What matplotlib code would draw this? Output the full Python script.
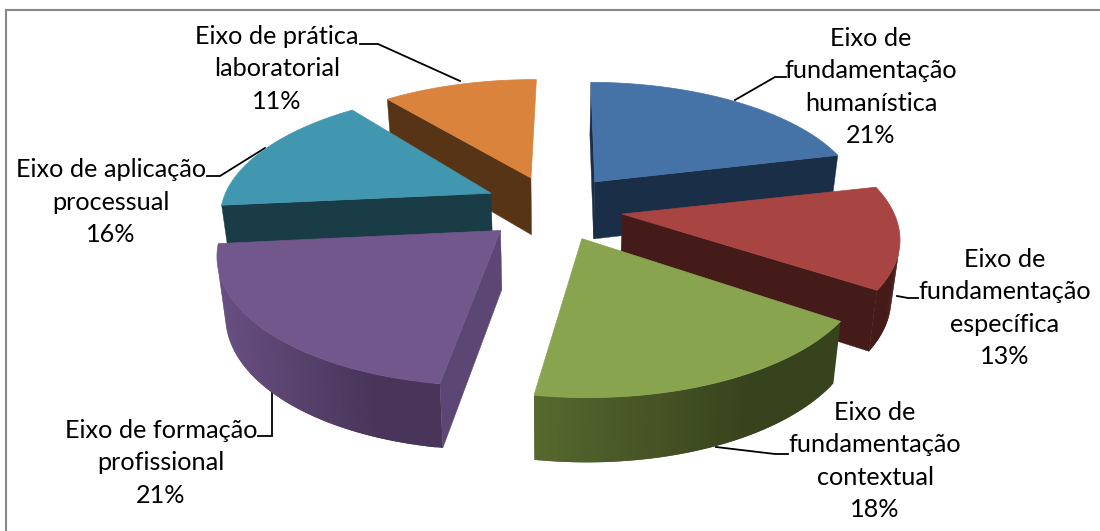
import numpy as np
import matplotlib
matplotlib.use("Agg")
import matplotlib.pyplot as plt
from matplotlib.colors import to_rgb
from matplotlib.patches import Polygon

# ---- data ----
categories = ["Eixo de\nfundamentação\nhumanística",
              "Eixo de\nfundamentação\nespecífica",
              "Eixo de\nfundamentação\ncontextual",
              "Eixo de formação\nprofissional",
              "Eixo de aplicação\nprocessual",
              "Eixo de prática\nlaboratorial"]
values = [21, 13, 18, 21, 16, 11]

# ---- styling ----
top_colors = ["#4572A7", "#A84543", "#89A44F", "#71578C", "#4197AF", "#D9833C"]
wall_colors = ["#1B2E47", "#451B19", "#37431D", "#5C4673", "#1A3C47", "#583416"]
arc_light = ["#1B2E47", "#451B19", "#58692F", "#684F82", "#1A3C47", "#583416"]
arc_dark = ["#1B2E47", "#451B19", "#37431D", "#483559", "#1A3C47", "#583416"]
label_centers = [(871, 87), (1005, 308), (875, 461), (161, 463), (111, 202), (277, 69)]
leaders = [[(735, 100), (775, 77), (786, 77)],
           [(897, 296), (908, 298), (918, 298)],
           [(716, 447), (775, 454), (788, 454)],
           [(272, 392), (272, 436), (258, 436)],
           [(265, 148), (220, 176), (207, 176)],
           [(460, 81), (378, 44), (360, 44)]]
draw_order = [5, 0, 4, 1, 3, 2]
slice_nudge = [(1, -1), (0, 0), (2, -1), (5, -1), (7, -2), (4, 0)]  # pixels
slice_rot = [0.5, 1.5, 2.0, 1.5, 1.5, 0.6]                          # degrees
hidden_walls = {(5, 1)}  # wall edge-on in the reference

CX, CY = 550, 208      # pie centre in pixels
A, B = 270, 122.6      # horizontal / vertical radius
K = 0.158              # perspective
EXPLODE = 0.27
DEPTH = 58
SHRINK = 0.975         # bottom plane is a little further away


def project(gx, gy, z=0.0, nudge=(0, 0)):
    """Ground coordinates (gx right, gy away from viewer) to pixels; z=1 is bottom."""
    gx, gy = np.asarray(gx, float), np.asarray(gy, float)
    s = 1.0 / (1.0 + K * gy)
    x = CX + nudge[0] + gx * A * s * (1 - (1 - SHRINK) * z)
    y = CY + nudge[1] - gy * B * s + z * DEPTH * np.sqrt(s)
    return np.column_stack([x, y])


def area(p):
    x, y = p[:, 0], p[:, 1]
    return 0.5 * np.sum(x * np.roll(y, -1) - np.roll(x, -1) * y)


fig = plt.figure(figsize=(11.0, 5.31), dpi=100)
ax = fig.add_axes([0, 0, 1, 1])
ax.set_xlim(0, 1100)
ax.set_ylim(531, 0)
ax.axis("off")

# frame: only the top and left edges fall inside the picture
ax.plot([5.5, 5.5, 1100], [531, 10, 10], color="#888888", lw=1.5, zorder=0,
        solid_joinstyle="miter", clip_on=False)

# leader lines sit beneath the slices
for pts in leaders:
    ax.plot(*zip(*pts), color="black", lw=1.3, zorder=1, solid_joinstyle="miter")

bounds = np.concatenate([[0], np.cumsum(values)]) / np.sum(values) * 2 * np.pi
zo = 2
for i in draw_order:
    rot = np.radians(slice_rot[i])
    t0, t1 = bounds[i] + rot, bounds[i + 1] + rot
    mid = (t0 + t1) / 2
    ax0, ay0 = EXPLODE * np.sin(mid), EXPLODE * np.cos(mid)
    th = np.linspace(t0, t1, 60)
    gx = ax0 + np.sin(th)
    gy = ay0 + np.cos(th)
    nd = slice_nudge[i]
    top = project(gx, gy, 0, nd)
    bot = project(gx, gy, 1, nd)
    apex_t = project([ax0], [ay0], 0, nd)
    apex_b = project([ax0], [ay0], 1, nd)

    # radial walls (only those facing the viewer)
    for w, (edge_t, edge_b, sign) in enumerate(((top[0], bot[0], 1), (top[-1], bot[-1], -1))):
        q = np.array([apex_t[0], edge_t, edge_b, apex_b[0]])
        if area(q) * sign < 0 and (i, w) not in hidden_walls:
            ax.add_patch(Polygon(q, fc=wall_colors[i], ec=wall_colors[i], lw=0.3, zorder=zo))

    # outer rim, shaded from left (light) to right (dark); each strip overlaps the next
    # one so that no seams show between them
    xmin, xmax = top[:, 0].min(), top[:, 0].max()
    c0, c1 = np.array(to_rgb(arc_light[i])), np.array(to_rgb(arc_dark[i]))
    for j in range(len(th) - 1):
        k = min(j + 2, len(th) - 1)
        q = np.array([top[j], top[k], bot[k], bot[j]])
        if area(q) > 0:
            continue
        f = min(1.0, (top[j, 0] - xmin) / max(xmax - xmin, 1) * 1.4)
        col = c0 + (c1 - c0) * f
        ax.add_patch(Polygon(q, fc=col, ec="none", zorder=zo))

    # top face
    ax.add_patch(Polygon(np.vstack([apex_t, top]), fc=top_colors[i],
                         ec=top_colors[i], lw=0.5, zorder=zo + 0.5))
    zo += 1

total = sum(values)
for cat, val, (x, y) in zip(categories, values, label_centers):
    ax.text(x, y, f"{cat}\n{round(val / total * 100)}%", ha="center", va="center",
            family="Lato", fontsize=18.2, linespacing=1.49, color="black", zorder=20)

fig.savefig("out.png", dpi=100)
